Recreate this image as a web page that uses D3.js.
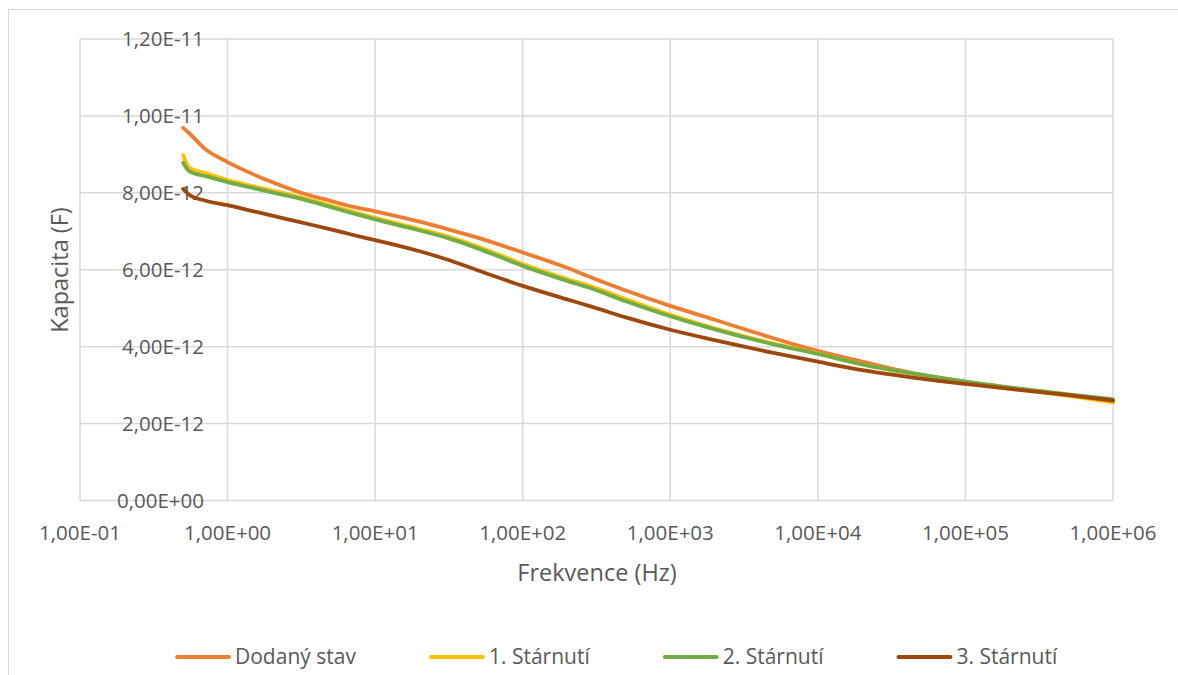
<!DOCTYPE html>
<html>
<head>
<meta charset="utf-8">
<script src="https://cdn.jsdelivr.net/npm/d3@7"></script>
<style>
  body { margin: 0; background: #fff; }
  text { font-family: "Open Sans", sans-serif; fill: #595959; }
</style>
</head>
<body>
<div id="chart"></div>
<script>
// Frequencies (Hz) shared by all series
const freqs = [0.5, 0.55, 0.7, 1, 1.5, 2, 3, 5, 7, 10, 20, 30, 50, 100, 200, 300, 500,
  1e3, 2e3, 5e3, 1e4, 2e4, 5e4, 1e5, 2e5, 5e5, 1e6];

// Capacitance in pF (converted to F below)
const dodanyStav = [9.69, 9.55, 9.15, 8.80, 8.48, 8.28, 8.03, 7.79, 7.64, 7.52, 7.25, 7.07, 6.83, 6.45,
  6.05, 5.78, 5.46, 5.06, 4.70, 4.22, 3.89, 3.61, 3.27, 3.09, 2.93, 2.74, 2.60];
const starnuti1 = [8.98, 8.66, 8.52, 8.33, 8.17, 8.06, 7.90, 7.67, 7.51, 7.35, 7.06, 6.88, 6.60, 6.15,
  5.76, 5.55, 5.24, 4.83, 4.48, 4.08, 3.82, 3.54, 3.26, 3.08, 2.92, 2.72, 2.55];
const starnuti2 = [8.78, 8.56, 8.44, 8.28, 8.12, 8.01, 7.86, 7.63, 7.47, 7.31, 7.02, 6.84, 6.55, 6.10,
  5.71, 5.50, 5.18, 4.79, 4.45, 4.06, 3.81, 3.54, 3.27, 3.09, 2.94, 2.76, 2.63];
const starnuti3 = [8.10, 7.95, 7.80, 7.68, 7.52, 7.41, 7.25, 7.05, 6.91, 6.77, 6.48, 6.28, 5.98, 5.58,
  5.23, 5.03, 4.76, 4.44, 4.17, 3.84, 3.61, 3.39, 3.17, 3.03, 2.90, 2.74, 2.60];

const seriesNames = ['Dodaný stav', '1. Stárnutí', '2. Stárnutí', '3. Stárnutí'];
const seriesColors = ['#ED7D31', '#FFC000', '#70AD47', '#9E480E'];
const seriesValues = [dodanyStav, starnuti1, starnuti2, starnuti3];

const xTicks = [1e-1, 1e0, 1e1, 1e2, 1e3, 1e4, 1e5, 1e6];
const yTicks = [0, 2e-12, 4e-12, 6e-12, 8e-12, 1e-11, 1.2e-11];

const width = 1178, height = 675;
const plot = { left: 80, right: 1113, top: 39, bottom: 500.5 };

const svg = d3.select('#chart').append('svg')
  .attr('width', width)
  .attr('height', height);

// chart area border (runs off the right and bottom of the picture)
svg.append('rect')
  .attr('x', 8.5).attr('y', 9.5)
  .attr('width', 1300).attr('height', 800)
  .attr('fill', 'none')
  .attr('stroke', '#d9d9d9')
  .attr('stroke-width', 1.2);

const x = d3.scaleLog().domain([1e-1, 1e6]).range([plot.left, plot.right]);
const y = d3.scaleLinear().domain([0, 1.2e-11]).range([plot.bottom, plot.top]);

// Excel style exponent labels with decimal comma
function sci(v) {
  const s = v.toExponential(2).replace('.', ',');
  const [m, e] = s.split('e');
  const sign = e[0] === '-' ? '-' : '+';
  const digits = e.replace(/[+-]/, '').padStart(2, '0');
  return `${m}E${sign}${digits}`;
}

// Grid
const grid = svg.append('g');
grid.selectAll('.hgrid')
  .data(yTicks)
  .enter().append('line')
  .attr('x1', plot.left).attr('x2', plot.right)
  .attr('y1', d => y(d)).attr('y2', d => y(d))
  .attr('stroke', '#d9d9d9')
  .attr('stroke-width', 1.5);
grid.selectAll('.vgrid')
  .data(xTicks)
  .enter().append('line')
  .attr('x1', d => x(d)).attr('x2', d => x(d))
  .attr('y1', plot.top).attr('y2', plot.bottom)
  .attr('stroke', '#d9d9d9')
  .attr('stroke-width', 1.5);

// Tick labels
svg.append('g').selectAll('text')
  .data(yTicks)
  .enter().append('text')
  .attr('x', 204)
  .attr('y', d => y(d))
  .attr('dy', '0.35em')
  .attr('text-anchor', 'end')
  .style('font-size', '20.5px')
  .text(d => sci(d));

svg.append('g').selectAll('text')
  .data(xTicks)
  .enter().append('text')
  .attr('x', d => x(d))
  .attr('y', 533)
  .attr('dy', '0.35em')
  .attr('text-anchor', 'middle')
  .style('font-size', '20.5px')
  .text(d => sci(d));

// Axis titles
svg.append('text')
  .attr('transform', 'translate(60,270) rotate(-90)')
  .attr('text-anchor', 'middle')
  .attr('dy', '0.35em')
  .style('font-size', '23.5px')
  .text('Kapacita (F)');

svg.append('text')
  .attr('x', 597)
  .attr('y', 573)
  .attr('dy', '0.35em')
  .attr('text-anchor', 'middle')
  .style('font-size', '23.5px')
  .text('Frekvence (Hz)');

// Lines
const line = d3.line()
  .x(d => x(d.f))
  .y(d => y(d.c))
  .curve(d3.curveMonotoneX);

seriesValues.forEach((vals, i) => {
  const pts = freqs.map((f, j) => ({ f: f, c: vals[j] * 1e-12 }));
  svg.append('path')
    .datum(pts)
    .attr('d', line)
    .attr('fill', 'none')
    .attr('stroke', seriesColors[i])
    .attr('stroke-width', 3.8)
    .attr('stroke-linejoin', 'round')
    .attr('stroke-linecap', 'round');
});

// Legend
const legend = svg.append('g');
let lx = 177;
seriesNames.forEach((name, i) => {
  const item = legend.append('g');
  item.append('line')
    .attr('x1', lx).attr('x2', lx + 52)
    .attr('y1', 657).attr('y2', 657)
    .attr('stroke', seriesColors[i])
    .attr('stroke-width', 3.8)
    .attr('stroke-linecap', 'round');
  const t = item.append('text')
    .attr('x', lx + 58)
    .attr('y', 657)
    .attr('dy', '0.35em')
    .style('font-size', '21px')
    .text(name);
  lx += 58 + t.node().getComputedTextLength() + 75;
});
</script>
</body>
</html>
